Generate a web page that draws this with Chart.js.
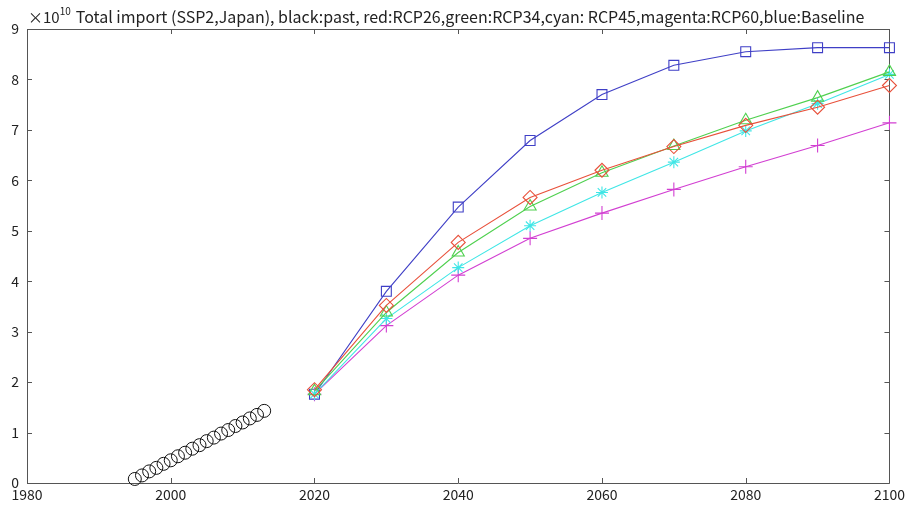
<!DOCTYPE html>
<html><head><meta charset="utf-8">
<script src="https://cdn.jsdelivr.net/npm/chart.js@4"></script>
<style>html,body{margin:0;padding:0;background:#fff}#wrap{width:908px;height:505px}</style>
</head><body><div id="wrap"><canvas id="c" width="908" height="505"></canvas></div>
<script>
// values in units of 10^10
const scaleExponent = 10;
const titleText = "Total import (SSP2,Japan), black:past, red:RCP26,green:RCP34,cyan: RCP45,magenta:RCP60,blue:Baseline";
const pastYears = [1995,1996,1997,1998,1999,2000,2001,2002,2003,2004,2005,2006,2007,2008,2009,2010,2011,2012,2013];
const pastValues = [0.08,0.15,0.23,0.30,0.38,0.45,0.53,0.60,0.68,0.75,0.83,0.90,0.98,1.05,1.13,1.20,1.28,1.35,1.43];
const futureYears = [2020,2030,2040,2050,2060,2070,2080,2090,2100];
const rcp26 = [1.85,3.52,4.77,5.66,6.20,6.67,7.09,7.45,7.88];
const rcp34 = [1.82,3.38,4.57,5.48,6.15,6.68,7.19,7.64,8.15];
const rcp45 = [1.76,3.26,4.27,5.10,5.76,6.36,6.98,7.52,8.10];
const rcp60 = [1.76,3.12,4.12,4.85,5.35,5.82,6.27,6.69,7.14];
const baseline = [1.76,3.80,5.47,6.79,7.70,8.28,8.55,8.63,8.63];
const xTicks = [1980,2000,2020,2040,2060,2080,2100];
const yTicks = [0,1,2,3,4,5,6,7,8,9];

const FONT = "'Noto Sans CJK JP', 'Noto Sans', sans-serif";
const pts = (xs, ys) => xs.map((x, i) => ({x, y: ys[i]}));
const lineDs = (label, ys, color, style, r) => ({
  label, data: pts(futureYears, ys), borderColor: color, backgroundColor: 'rgba(0,0,0,0)',
  borderWidth: 1.1, pointStyle: style, pointRadius: r, pointBorderWidth: 1.1,
  pointBorderColor: color, pointBackgroundColor: 'rgba(0,0,0,0)', tension: 0, clip: false
});

const framePlugin = {
  id: 'frame',
  beforeDatasetsDraw(chart) {
    const {ctx, chartArea: a, scales: {x, y}} = chart;
    ctx.save();
    ctx.strokeStyle = '#555';
    ctx.lineWidth = 1;
    ctx.beginPath();
    ctx.rect(Math.round(a.left) + 0.5, Math.round(a.top) + 0.5, Math.round(a.right - a.left), Math.round(a.bottom - a.top));
    const tl = 5;
    xTicks.forEach(v => {
      const px = Math.round(x.getPixelForValue(v)) + 0.5;
      ctx.moveTo(px, a.bottom); ctx.lineTo(px, a.bottom - tl);
      ctx.moveTo(px, a.top); ctx.lineTo(px, a.top + tl);
    });
    yTicks.forEach(v => {
      const py = Math.round(y.getPixelForValue(v)) + 0.5;
      ctx.moveTo(a.left, py); ctx.lineTo(a.left + tl, py);
      ctx.moveTo(a.right, py); ctx.lineTo(a.right - tl, py);
    });
    ctx.stroke();
    ctx.restore();
  },
  afterDraw(chart) {
    const {ctx, chartArea: a} = chart;
    ctx.save();
    ctx.fillStyle = '#222';
    ctx.textBaseline = 'alphabetic';
    ctx.font = `15px ${FONT}`;
    let xPos = a.left + 1;
    ctx.fillText('\u00d710', xPos, 23);
    xPos += ctx.measureText('\u00d710').width;
    ctx.font = `10px ${FONT}`;
    ctx.fillText(String(scaleExponent), xPos, 15);
    xPos += ctx.measureText(String(scaleExponent)).width + 5;
    ctx.font = `16px ${FONT}`;
    ctx.fillText(titleText, xPos, 23);
    ctx.restore();
  }
};

new Chart(document.getElementById('c'), {
  type: 'line',
  data: {
    datasets: [
      {label: 'past', data: pts(pastYears, pastValues), showLine: false, borderColor: '#111',
       backgroundColor: 'rgba(0,0,0,0)', pointStyle: 'circle', pointRadius: 6.5, pointBorderWidth: 1,
       pointBorderColor: '#111', pointBackgroundColor: 'rgba(0,0,0,0)', clip: false},
      lineDs('RCP26', rcp26, '#e8503a', 'rectRot', 7),
      lineDs('RCP34', rcp34, '#4fd04f', 'triangle', 7),
      lineDs('RCP45', rcp45, '#3fe6e6', 'star', 6),
      lineDs('RCP60', rcp60, '#d23fd2', 'cross', 7),
      lineDs('Baseline', baseline, '#3f3fc6', 'rect', 7)
    ]
  },
  options: {
    responsive: false, animation: false,
    layout: {padding: {left: 0, right: 15, top: 29, bottom: 0}},
    plugins: {legend: {display: false}, tooltip: {enabled: false}, title: {display: false}},
    scales: {
      x: {
        type: 'linear', min: 1980, max: 2100,
        afterBuildTicks: s => { s.ticks = xTicks.map(v => ({value: v})); },
        afterFit: s => { s.height = 22; },
        grid: {display: false, drawTicks: false}, border: {display: false},
        ticks: {color: '#222', font: {family: FONT, size: 14}, padding: 3, maxRotation: 0, autoSkip: false,
                callback: v => String(v)}
      },
      y: {
        type: 'linear', min: 0, max: 9,
        afterBuildTicks: s => { s.ticks = yTicks.map(v => ({value: v})); },
        afterFit: s => { s.width = 27; },
        grid: {display: false, drawTicks: false}, border: {display: false},
        ticks: {color: '#222', font: {family: FONT, size: 14}, padding: 8, autoSkip: false,
                callback: v => String(v)}
      }
    }
  },
  plugins: [framePlugin]
});
</script></body></html>
